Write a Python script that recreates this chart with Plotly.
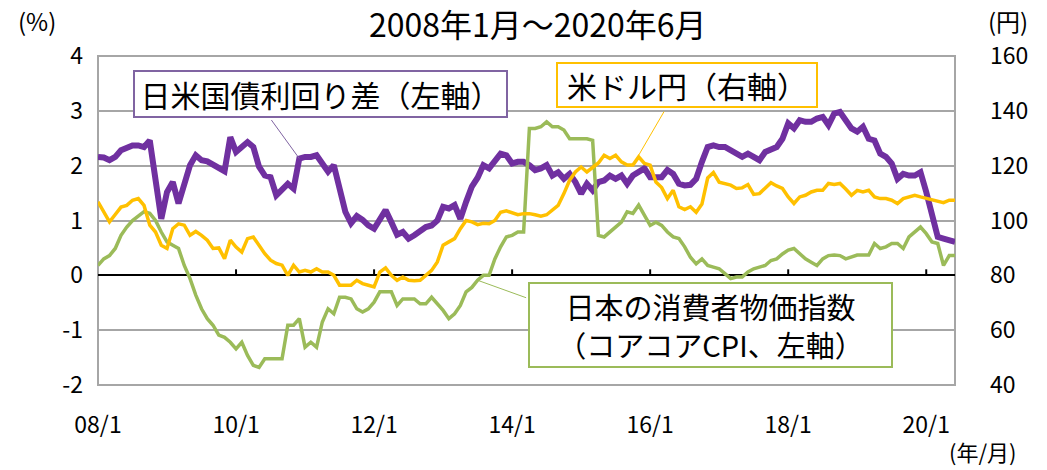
import plotly.graph_objects as go

# Monthly observations, 2008/1 .. 2020/6 (150 months)
months = list(range(150))

# US-Japan 10y government bond yield spread (%, left axis)
spread = [
    2.16, 2.15, 2.10, 2.16, 2.28, 2.34, 2.37, 2.37, 2.34, 2.46,
    1.75, 1.03, 1.52, 1.70, 1.31, 1.67, 2.01, 2.19, 2.10, 2.08,
    2.01, 1.95, 1.90, 2.52, 2.25, 2.34, 2.43, 2.34, 1.98, 1.82,
    1.79, 1.46, 1.55, 1.67, 1.58, 2.13, 2.16, 2.16, 2.19, 2.04,
    1.89, 2.01, 1.52, 1.16, 0.95, 1.08, 1.01, 0.91, 0.85, 1.00,
    1.19, 0.97, 0.74, 0.79, 0.67, 0.73, 0.82, 0.88, 0.91, 1.00,
    1.25, 1.22, 1.28, 1.03, 1.34, 1.62, 1.78, 2.01, 1.95, 2.10,
    2.22, 2.19, 2.04, 2.07, 2.07, 2.01, 1.92, 1.95, 2.01, 1.82,
    1.88, 1.76, 1.85, 1.70, 1.49, 1.67, 1.55, 1.70, 1.73, 1.82,
    1.76, 1.82, 1.67, 1.82, 1.88, 1.95, 1.79, 1.79, 1.79, 1.92,
    1.85, 1.67, 1.64, 1.65, 1.76, 2.07, 2.34, 2.37, 2.34, 2.34,
    2.28, 2.22, 2.16, 2.22, 2.16, 2.10, 2.25, 2.31, 2.34, 2.49,
    2.77, 2.68, 2.83, 2.80, 2.80, 2.86, 2.89, 2.74, 2.95, 2.98,
    2.84, 2.68, 2.62, 2.71, 2.49, 2.46, 2.22, 2.16, 2.04, 1.76,
    1.85, 1.82, 1.82, 1.88, 1.52, 1.09, 0.70, 0.67, 0.64, 0.61,
]

# USD/JPY (yen, right axis)
usdjpy = [
    106.8, 103.1, 99.5, 102.2, 104.9, 105.5, 107.4, 108.0, 105.5, 98.3,
    95.8, 91.0, 89.8, 97.0, 98.8, 98.3, 94.6, 96.0, 94.6, 92.8,
    89.8, 90.0, 86.1, 92.8, 90.3, 88.5, 93.4, 94.0, 91.0, 87.9,
    85.5, 84.3, 83.7, 80.0, 83.7, 81.2, 81.8, 81.2, 82.4, 81.2,
    81.2, 80.0, 76.4, 76.4, 76.4, 78.2, 77.0, 76.4, 75.8, 81.2,
    82.7, 80.0, 78.2, 79.4, 78.2, 78.0, 78.2, 80.0, 81.8, 84.9,
    91.0, 92.2, 93.4, 97.0, 100.0, 99.5, 98.5, 99.0, 98.8, 100.0,
    103.0, 103.5, 102.8, 102.1, 102.5, 102.5, 102.1, 101.6, 102.1, 103.7,
    105.5, 109.8, 114.7, 117.7, 119.5, 117.7, 119.5, 121.0, 123.8, 122.6,
    123.8, 121.4, 120.2, 120.2, 123.2, 120.8, 120.2, 114.0, 112.0, 108.0,
    111.0, 105.0, 104.0, 105.0, 103.0, 106.0, 115.5, 117.5, 114.0, 113.5,
    112.9, 111.7, 111.9, 113.1, 109.5, 109.8, 111.9, 113.8, 112.6, 111.7,
    108.6, 106.2, 108.6, 109.2, 110.4, 111.0, 111.0, 113.5, 113.1, 113.5,
    111.5, 109.2, 111.0, 110.4, 111.0, 108.6, 108.0, 108.0, 107.4, 106.2,
    108.0, 108.6, 109.2, 108.6, 108.0, 107.7, 107.0, 106.5, 107.4, 107.4,
]

# Japan core-core CPI, y/y (%, left axis)
cpi = [
    0.18, 0.30, 0.36, 0.49, 0.73, 0.88, 1.00, 1.09, 1.16, 1.13,
    1.00, 0.79, 0.61, 0.55, 0.49, 0.18, -0.06, -0.36, -0.61, -0.79,
    -0.91, -1.09, -1.13, -1.22, -1.34, -1.22, -1.46, -1.64, -1.68, -1.52,
    -1.52, -1.52, -1.52, -0.91, -0.91, -0.79, -1.31, -1.22, -1.31, -0.85,
    -0.61, -0.70, -0.40, -0.40, -0.43, -0.61, -0.67, -0.61, -0.49, -0.30,
    -0.30, -0.30, -0.55, -0.43, -0.43, -0.43, -0.52, -0.52, -0.40, -0.52,
    -0.64, -0.79, -0.70, -0.55, -0.30, -0.22, -0.09, 0.00, 0.00, 0.30,
    0.52, 0.70, 0.73, 0.79, 0.79, 2.68, 2.68, 2.71, 2.80, 2.71,
    2.71, 2.65, 2.49, 2.49, 2.49, 2.49, 2.46, 0.73, 0.70, 0.79,
    0.88, 0.97, 1.16, 1.13, 1.28, 1.10, 0.91, 0.97, 0.91, 0.79,
    0.70, 0.67, 0.52, 0.33, 0.21, 0.30, 0.18, 0.15, 0.12, 0.03,
    -0.06, -0.03, -0.03, 0.06, 0.12, 0.15, 0.18, 0.27, 0.30, 0.39,
    0.46, 0.49, 0.39, 0.30, 0.24, 0.18, 0.30, 0.36, 0.37, 0.36,
    0.30, 0.33, 0.37, 0.37, 0.37, 0.58, 0.49, 0.52, 0.58, 0.58,
    0.49, 0.70, 0.79, 0.88, 0.76, 0.61, 0.58, 0.18, 0.36, 0.36,
]

tick_pos = [0, 24, 48, 72, 96, 120, 144]
tick_text = ["08/1", "10/1", "12/1", "14/1", "16/1", "18/1", "20/1"]
left_ticks = [-2, -1, 0, 1, 2, 3, 4]
left_text = ["-2", "-1", "0", "1", "2", "3", "4"]
right_ticks = [40, 60, 80, 100, 120, 140, 160]

PURPLE = "#7030A0"
YELLOW = "#FFC000"
GREEN = "#9BBB59"
GRID = "#A6A6A6"
FONT = "Noto Sans CJK JP"

W, H = 1047, 470
L, R, T, B = 98, 92, 56, 85
PW, PH = W - L - R, H - T - B


def px(x):
    return (x - L) / PW


def py(y):
    return (H - B - y) / PH


fig = go.Figure()
fig.add_trace(go.Scatter(x=months, y=spread, mode="lines", yaxis="y",
                         line=dict(color=PURPLE, width=6), hoverinfo="skip"))
fig.add_trace(go.Scatter(x=months, y=cpi, mode="lines", yaxis="y",
                         line=dict(color=GREEN, width=3.5), hoverinfo="skip"))
fig.add_trace(go.Scatter(x=months, y=usdjpy, mode="lines", yaxis="y2",
                         line=dict(color=YELLOW, width=3.5), hoverinfo="skip"))

shapes = [
    # plot-area frame
    dict(type="rect", xref="paper", yref="paper", x0=0, x1=1, y0=0, y1=1,
         line=dict(color=GRID, width=2), layer="below"),
]
# small upward tick marks on the zero axis
tick_h = 6 / PH * (left_ticks[-1] - left_ticks[0])
for t in tick_pos[1:]:
    shapes.append(dict(type="line", xref="x", yref="y", x0=t, x1=t, y0=0, y1=tick_h,
                       line=dict(color="black", width=2), layer="below"))


def text_at(text, x, y, size):
    return dict(text=text, x=px(x), y=py(y), xref="paper", yref="paper",
                xanchor="center", yanchor="middle", showarrow=False,
                font=dict(size=size, color="#000"))


def label_box(text, x0, x1, y0, y1, color, size=30):
    return dict(text=text, x=px((x0 + x1) / 2), y=py((y0 + y1) / 2),
                xref="paper", yref="paper", xanchor="center", yanchor="middle",
                showarrow=False, width=x1 - x0 - 4, height=y1 - y0 - 4,
                borderpad=0, borderwidth=2, bordercolor=color, bgcolor="white",
                font=dict(size=size, color="#000"))


annotations = [
    text_at("2008年1月～2020年6月", 538, 23, 32),
    text_at("(%)", 37, 20, 24),
    text_at("(円)", 1008, 20, 24),
    text_at("(年/月)", 983, 451, 22),
    # series labels
    label_box("日米国債利回り差（左軸）", 133, 508, 70, 118, "#8064A2"),
    label_box("米ドル円（右軸）", 556, 818, 62, 108, YELLOW),
    label_box("日本の消費者物価指数<br>（コアコアCPI、左軸）", 528, 893, 282, 368, GREEN, 29),
    # leader lines
    dict(text="", x=35, y=spread[35], xref="x", yref="y", showarrow=True,
         arrowhead=0, arrowwidth=1, arrowcolor="#8064A2", ax=-29, ay=-40, standoff=0),
    dict(text="", x=93, y=usdjpy[93], xref="x", yref="y2", showarrow=True,
         arrowhead=0, arrowwidth=1, arrowcolor=YELLOW, ax=32, ay=-55, standoff=0),
    dict(text="", x=66, y=cpi[66], xref="x", yref="y", showarrow=True,
         arrowhead=0, arrowwidth=1, arrowcolor=GREEN, ax=50, ay=18, standoff=0),
]

fig.update_layout(
    width=W, height=H,
    margin=dict(l=L, r=R, t=T, b=B, pad=0),
    paper_bgcolor="white", plot_bgcolor="white",
    showlegend=False,
    font=dict(family=FONT, size=22, color="#000"),
    xaxis=dict(range=[0, 149], tickvals=tick_pos, ticktext=tick_text,
               showgrid=False, zeroline=False, showline=False, ticks="",
               ticklabelstandoff=24, tickfont=dict(size=23)),
    yaxis=dict(range=[-2, 4], tickvals=left_ticks, ticktext=left_text,
               showgrid=True, gridcolor=GRID,
               gridwidth=2, zeroline=True, zerolinecolor="black", zerolinewidth=2,
               showline=False, ticks="", ticklabelstandoff=14, tickfont=dict(size=23)),
    yaxis2=dict(range=[40, 160], tickvals=right_ticks, overlaying="y", side="right",
                showgrid=False, zeroline=False, showline=False, ticks="",
                ticklabelstandoff=34, tickfont=dict(size=23)),
    shapes=shapes,
    annotations=annotations,
)

fig.write_html("out.html")
